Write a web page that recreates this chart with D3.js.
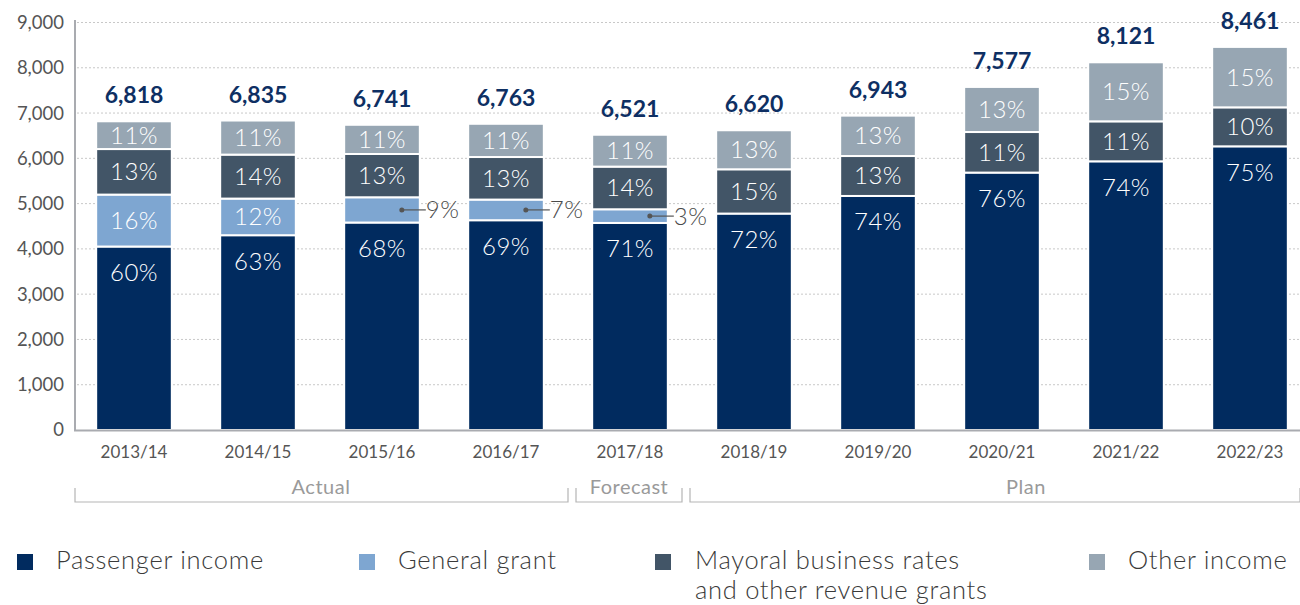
<!DOCTYPE html>
<html>
<head>
<meta charset="utf-8">
<script src="https://cdn.jsdelivr.net/npm/d3@7"></script>
<style>
  body { margin: 0; background: #fff; }
  svg { font-family: Lato, "Open Sans", sans-serif; }
</style>
</head>
<body>
<div id="chart"></div>
<script>
// years and stacked values (GBP m)
var years = ["2013/14", "2014/15", "2015/16", "2016/17", "2017/18", "2018/19", "2019/20", "2020/21", "2021/22", "2022/23"];
var passenger = [4052, 4302, 4582, 4633, 4573, 4780, 5169, 5685, 5934, 6265];
var generalGrant = [1147, 809, 558, 456, 302, 0, 0, 0, 0, 0];
var mayoral = [1006, 971, 956, 940, 942, 978, 882, 896, 883, 861];
var other = [613, 753, 645, 734, 704, 862, 892, 996, 1304, 1335];
var totals = [6818, 6835, 6741, 6763, 6521, 6620, 6943, 7577, 8121, 8461];

// percentage labels as printed
var passengerPct = ["60%", "63%", "68%", "69%", "71%", "72%", "74%", "76%", "74%", "75%"];
var grantPct = ["16%", "12%", "9%", "7%", "3%", "", "", "", "", ""];
var mayoralPct = ["13%", "14%", "13%", "13%", "14%", "15%", "13%", "11%", "11%", "10%"];
var otherPct = ["11%", "11%", "11%", "11%", "11%", "13%", "13%", "13%", "15%", "15%"];

var yTicks = [0, 1000, 2000, 3000, 4000, 5000, 6000, 7000, 8000, 9000];
var periods = ["Actual", "Forecast", "Plan"];
var seriesNames = ["Passenger income", "General grant", "Mayoral business rates\nand other revenue grants", "Other income"];
var colors = ["#012b5f", "#7ea6d1", "#425567", "#97a6b3"];

var width = 1300, height = 605;
var svg = d3.select("#chart").append("svg")
    .attr("width", width)
    .attr("height", height);

var x = d3.scaleBand()
    .domain(years)
    .range([72, 1312])
    .paddingInner(0.39)
    .paddingOuter(0.195);

var y = d3.scaleLinear()
    .domain([0, 9000])
    .range([430, 22.5]);

// gridlines
svg.append("g").selectAll("line")
    .data(yTicks.slice(1))
    .enter().append("line")
    .attr("x1", 77).attr("x2", 1300)
    .attr("y1", function (d) { return y(d); })
    .attr("y2", function (d) { return y(d); })
    .attr("stroke", "#c8c8c8")
    .attr("stroke-width", 1)
    .attr("stroke-dasharray", "2,2");

// y labels
svg.append("g").selectAll("text")
    .data(yTicks)
    .enter().append("text")
    .attr("x", 64)
    .attr("y", function (d) { return y(d); })
    .attr("dy", "0.35em")
    .attr("text-anchor", "end")
    .attr("fill", "#555")
    .style("font-size", "18.5px")
    .text(function (d) { return d3.format(",")(d); });

var rows = years.map(function (yr, i) {
  return {year: yr, passenger: passenger[i], grant: generalGrant[i], mayoral: mayoral[i], other: other[i]};
});
var keys = ["passenger", "grant", "mayoral", "other"];
var labels = [passengerPct, grantPct, mayoralPct, otherPct];
var stack = d3.stack().keys(keys)(rows);

var layers = svg.append("g").selectAll("g")
    .data(stack)
    .enter().append("g")
    .attr("fill", function (d, i) { return colors[i]; });

layers.selectAll("rect")
    .data(function (d) { return d; })
    .enter().append("rect")
    .filter(function (d) { return d[1] - d[0] > 0; })
    .attr("x", function (d) { return x(d.data.year); })
    .attr("width", x.bandwidth())
    .attr("y", function (d) { return y(d[1]); })
    .attr("height", function (d) { return y(d[0]) - y(d[1]); })
    .attr("stroke", "#fff")
    .attr("stroke-width", 2);

// percent labels inside segments
stack.forEach(function (layer, k) {
  layer.forEach(function (d, i) {
    var lab = labels[k][i];
    if (!lab) return;
    var top = y(d[1]), bot = y(d[0]);
    var cx = x(d.data.year) + x.bandwidth() / 2;
    if (k == 1 && bot - top < 30) {
      // small grant slice: callout to the right
      var my = (top + bot) / 2;
      var right = x(d.data.year) + x.bandwidth();
      svg.append("circle").attr("cx", right - 18).attr("cy", my).attr("r", 2.5).attr("fill", "#555");
      svg.append("line").attr("x1", right - 18).attr("x2", right + 6)
          .attr("y1", my).attr("y2", my).attr("stroke", "#555").attr("stroke-width", 1.2);
      svg.append("text").attr("x", right + 6).attr("y", my).attr("dy", "0.35em")
          .attr("fill", "#4a4a4a").style("font-size", "24px").style("font-weight", 300)
          .style("letter-spacing", "0.5px").text(lab);
      return;
    }
    var cy = k == 0 ? top + 26 : (top + bot) / 2;
    svg.append("text")
        .attr("x", cx).attr("y", cy).attr("dy", "0.35em")
        .attr("text-anchor", "middle")
        .attr("fill", "#fff")
        .style("font-size", "24px")
        .style("font-weight", 300)
        .style("letter-spacing", "0.5px")
        .text(lab);
  });
});

// totals above bars
svg.append("g").selectAll("text")
    .data(rows)
    .enter().append("text")
    .attr("x", function (d) { return x(d.year) + x.bandwidth() / 2; })
    .attr("y", function (d, i) { return y(d.passenger + d.grant + d.mayoral + d.other) - 26; })
    .attr("dy", "0.35em")
    .attr("text-anchor", "middle")
    .attr("fill", "#0e2f63")
    .style("font-size", "23px")
    .style("font-weight", "bold")
    .text(function (d, i) { return d3.format(",")(totals[i]); });

// axes lines
svg.append("line").attr("x1", 75).attr("x2", 75).attr("y1", 20).attr("y2", 431)
    .attr("stroke", "#a9abb0").attr("stroke-width", 2);
svg.append("line").attr("x1", 74).attr("x2", 1300).attr("y1", 430.5).attr("y2", 430.5)
    .attr("stroke", "#a9abb0").attr("stroke-width", 2);

// x labels
svg.append("g").selectAll("text")
    .data(years)
    .enter().append("text")
    .attr("x", function (d) { return x(d) + x.bandwidth() / 2; })
    .attr("y", 452)
    .attr("dy", "0.35em")
    .attr("text-anchor", "middle")
    .attr("fill", "#555")
    .style("font-size", "17px")
    .text(function (d) { return d; });

// period brackets
var bracketEnds = [[75, 568], [576, 682], [690, 1300]];
var bracketLabelX = [321, 629, 1026];
periods.forEach(function (p, i) {
  var x0 = bracketEnds[i][0], x1 = bracketEnds[i][1];
  svg.append("path")
      .attr("d", "M" + x0 + ",488V502H" + x1 + "V488")
      .attr("stroke", "#b5b5b5").attr("stroke-width", 1.2).attr("fill", "none");
  svg.append("text")
      .attr("x", bracketLabelX[i]).attr("y", 487).attr("dy", "0.35em")
      .attr("text-anchor", "middle")
      .attr("fill", "#9a9a9a")
      .style("font-size", "20px")
      .style("letter-spacing", "0.5px")
      .text(p);
});

// legend
var legendX = [17, 359, 655, 1089];
seriesNames.forEach(function (name, i) {
  svg.append("rect").attr("x", legendX[i]).attr("y", 554).attr("width", 16).attr("height", 16)
      .attr("fill", colors[i]);
  name.split("\n").forEach(function (ln, j) {
    svg.append("text")
        .attr("x", legendX[i] + (i == 2 ? 40 : 39))
        .attr("y", 560 + j * 30)
        .attr("dy", "0.35em")
        .attr("fill", "#3a3a3a").style("font-size", "25.5px").style("font-weight", 300)
        .style("letter-spacing", "0.7px")
        .text(ln);
  });
});
</script>
</body>
</html>
